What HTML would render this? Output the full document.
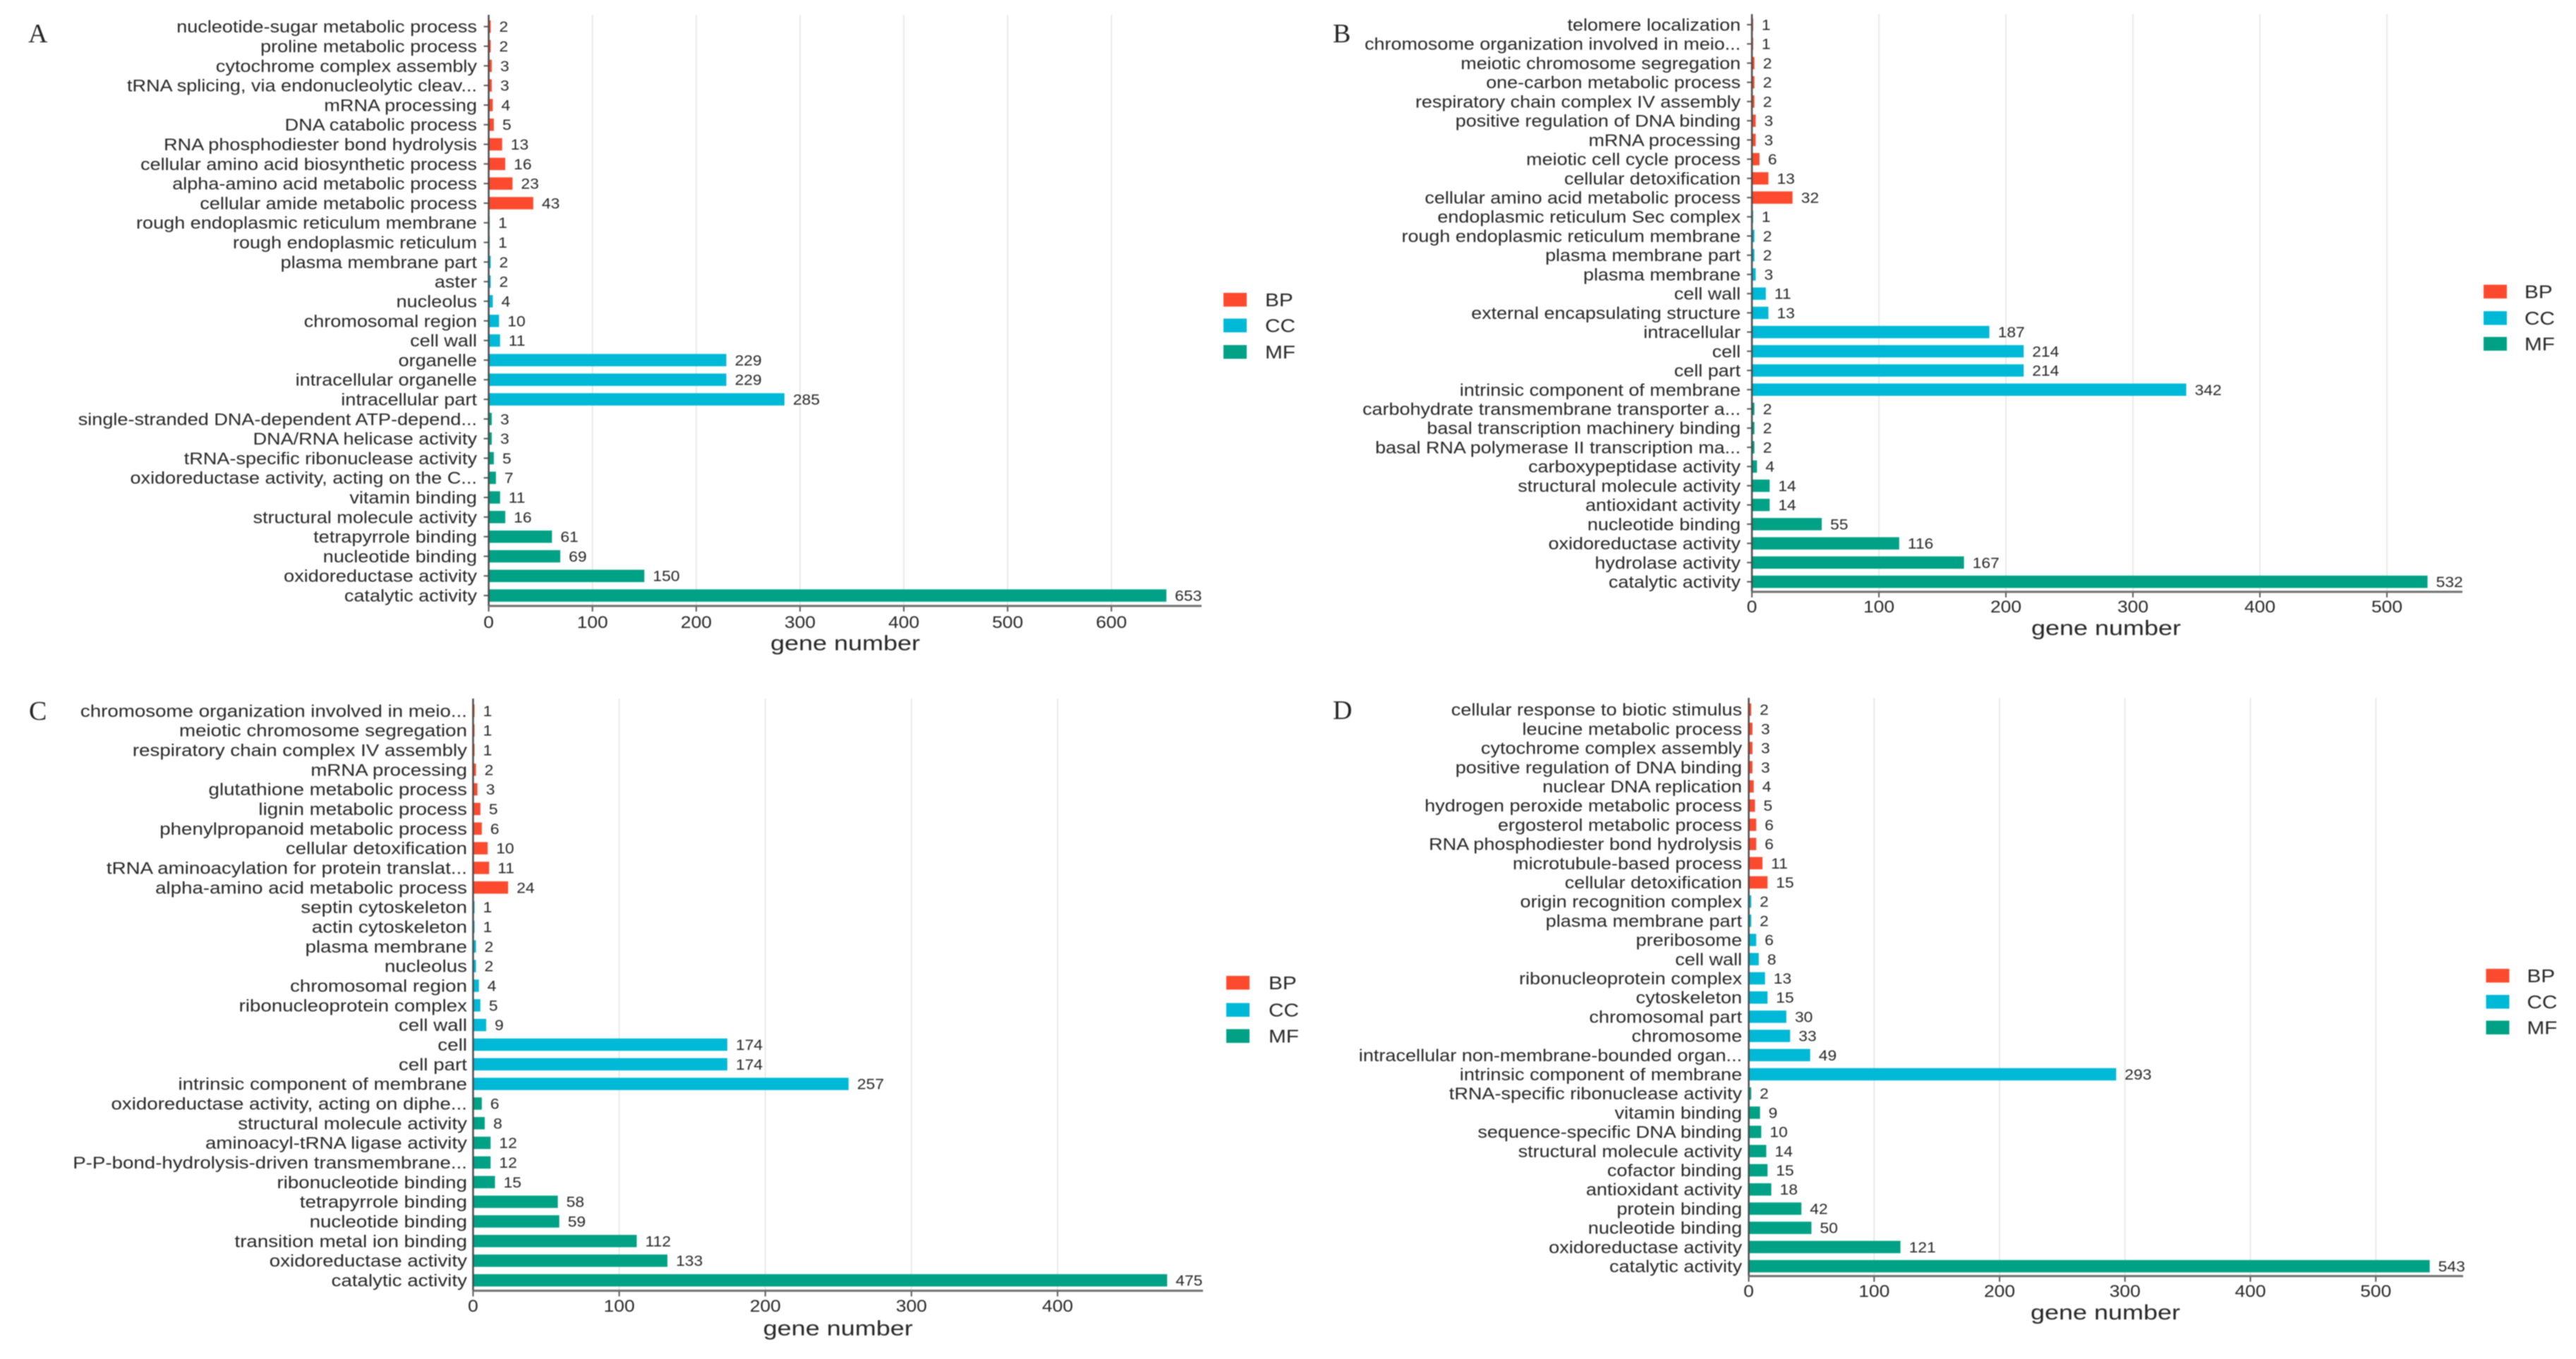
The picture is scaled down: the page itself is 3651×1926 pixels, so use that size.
<!DOCTYPE html>
<html lang="en">
<head>
<meta charset="utf-8">
<title>GO enrichment gene number charts</title>
<style>
html,body{margin:0;padding:0;background:#fff;}
body{width:3651px;height:1926px;overflow:hidden;}
#figure{display:block;filter:blur(0.7px);}
text{font-family:"Liberation Sans",Arial,sans-serif;fill:#262626;}
.panel-letter{font-family:"Liberation Serif",serif;fill:#222;}
</style>
</head>
<body>
<svg id="figure" xmlns="http://www.w3.org/2000/svg" width="3651" height="1926" viewBox="0 0 3651 1926">
<rect x="0" y="0" width="3651" height="1926" fill="#ffffff"/>
</svg>
<script>
const groupNames = ['BP', 'CC', 'MF'];
const groupSizes = [10, 10, 10];
const axisTitle = 'gene number';

const categoriesA = ['nucleotide-sugar metabolic process','proline metabolic process','cytochrome complex assembly','tRNA splicing, via endonucleolytic cleav...','mRNA processing','DNA catabolic process','RNA phosphodiester bond hydrolysis','cellular amino acid biosynthetic process','alpha-amino acid metabolic process','cellular amide metabolic process','rough endoplasmic reticulum membrane','rough endoplasmic reticulum','plasma membrane part','aster','nucleolus','chromosomal region','cell wall','organelle','intracellular organelle','intracellular part','single-stranded DNA-dependent ATP-depend...','DNA/RNA helicase activity','tRNA-specific ribonuclease activity','oxidoreductase activity, acting on the C...','vitamin binding','structural molecule activity','tetrapyrrole binding','nucleotide binding','oxidoreductase activity','catalytic activity'];
const valuesA = [2,2,3,3,4,5,13,16,23,43,1,1,2,2,4,10,11,229,229,285,3,3,5,7,11,16,61,69,150,653];
const tickLabelsA = ['0','100','200','300','400','500','600'];

const categoriesB = ['telomere localization','chromosome organization involved in meio...','meiotic chromosome segregation','one-carbon metabolic process','respiratory chain complex IV assembly','positive regulation of DNA binding','mRNA processing','meiotic cell cycle process','cellular detoxification','cellular amino acid metabolic process','endoplasmic reticulum Sec complex','rough endoplasmic reticulum membrane','plasma membrane part','plasma membrane','cell wall','external encapsulating structure','intracellular','cell','cell part','intrinsic component of membrane','carbohydrate transmembrane transporter a...','basal transcription machinery binding','basal RNA polymerase II transcription ma...','carboxypeptidase activity','structural molecule activity','antioxidant activity','nucleotide binding','oxidoreductase activity','hydrolase activity','catalytic activity'];
const valuesB = [1,1,2,2,2,3,3,6,13,32,1,2,2,3,11,13,187,214,214,342,2,2,2,4,14,14,55,116,167,532];
const tickLabelsB = ['0','100','200','300','400','500'];

const categoriesC = ['chromosome organization involved in meio...','meiotic chromosome segregation','respiratory chain complex IV assembly','mRNA processing','glutathione metabolic process','lignin metabolic process','phenylpropanoid metabolic process','cellular detoxification','tRNA aminoacylation for protein translat...','alpha-amino acid metabolic process','septin cytoskeleton','actin cytoskeleton','plasma membrane','nucleolus','chromosomal region','ribonucleoprotein complex','cell wall','cell','cell part','intrinsic component of membrane','oxidoreductase activity, acting on diphe...','structural molecule activity','aminoacyl-tRNA ligase activity','P-P-bond-hydrolysis-driven transmembrane...','ribonucleotide binding','tetrapyrrole binding','nucleotide binding','transition metal ion binding','oxidoreductase activity','catalytic activity'];
const valuesC = [1,1,1,2,3,5,6,10,11,24,1,1,2,2,4,5,9,174,174,257,6,8,12,12,15,58,59,112,133,475];
const tickLabelsC = ['0','100','200','300','400'];

const categoriesD = ['cellular response to biotic stimulus','leucine metabolic process','cytochrome complex assembly','positive regulation of DNA binding','nuclear DNA replication','hydrogen peroxide metabolic process','ergosterol metabolic process','RNA phosphodiester bond hydrolysis','microtubule-based process','cellular detoxification','origin recognition complex','plasma membrane part','preribosome','cell wall','ribonucleoprotein complex','cytoskeleton','chromosomal part','chromosome','intracellular non-membrane-bounded organ...','intrinsic component of membrane','tRNA-specific ribonuclease activity','vitamin binding','sequence-specific DNA binding','structural molecule activity','cofactor binding','antioxidant activity','protein binding','nucleotide binding','oxidoreductase activity','catalytic activity'];
const valuesD = [2,3,3,3,4,5,6,6,11,15,2,2,6,8,13,15,30,33,49,293,2,9,10,14,15,18,42,50,121,543];
const tickLabelsD = ['0','100','200','300','400','500'];

const groupColors = {BP:'#fb4a2e', CC:'#00b9d6', MF:'#00a185'};
const SVG_NS = 'http://www.w3.org/2000/svg';
const root = document.getElementById('figure');

function make(parent, tag, geometry, content) {
  const node = document.createElementNS(SVG_NS, tag);
  for (const key in geometry) node.setAttribute(key, geometry[key]);
  if (content !== undefined) node.textContent = content;
  parent.appendChild(node);
  return node;
}
function stretched(x, y, sx) { return 'translate(' + x + ',' + y + ') scale(' + sx + ',1)'; }

function groupOf(index) {
  let running = 0;
  for (let g = 0; g < groupNames.length; g++) {
    running += groupSizes[g];
    if (index < running) return groupNames[g];
  }
  return groupNames[groupNames.length - 1];
}

function drawPanel(p) {
  const g = make(root, 'g', {});
  
  

  const xScale = function (v) { return p.x0 + v * p.pxPerUnit; };
  const yScale = function (i) { return p.firstY + i * (p.lastY - p.firstY) / (p.categories.length - 1); };

  const letter = make(g, 'text', {x:p.letterX, y:p.letterY, 'font-size':38, class:'panel-letter'}, p.id);
  
  

  p.ticks.forEach(function (label) {
    const v = Number(label);
    const x = xScale(v);
    if (v !== 0) {
      const grid = make(g, 'line', {x1:x, x2:x, y1:p.axisTop, y2:p.axisY, stroke:'#e9e9e9', 'stroke-width':2});
      
      
    }
    const tick = make(g, 'line', {x1:x, x2:x, y1:p.axisY, y2:p.axisY + 8, stroke:'#555', 'stroke-width':2});
    
    
    const text = make(g, 'text', {transform:stretched(x, p.tickBase, 1.1), 'font-size':24, 'text-anchor':'middle'}, label);
    
    
  });

  p.categories.forEach(function (name, i) {
    const y = yScale(i);
    const value = p.values[i];
    const bar = make(g, 'rect', {x:p.x0, y:y - 8.75, width:xScale(value) - p.x0, height:17.5, fill:groupColors[groupOf(i)]});
    
    
    if (p.yTick > 0) {
      const tick = make(g, 'line', {x1:p.x0 - p.yTick, x2:p.x0, y1:y, y2:y, stroke:'#555', 'stroke-width':2});
      
      
    }
    const label = make(g, 'text', {transform:stretched(p.labelRight, y + 8.5, p.sx), 'font-size':24, 'text-anchor':'end'}, name);
    
    
    const printed = make(g, 'text', {transform:stretched(xScale(value) + 12, y + 7.5, 1.09), 'font-size':21}, String(value));
    
    
  });

  const yAxis = make(g, 'line', {x1:p.x0, x2:p.x0, y1:p.axisTop, y2:p.axisY, stroke:'#4a4a4a', 'stroke-width':2.5});
  
  
  const xAxis = make(g, 'line', {x1:p.x0, x2:p.axisEnd, y1:p.axisY, y2:p.axisY, stroke:'#6e6e6e', 'stroke-width':3});
  
  

  const title = make(g, 'text', {transform:stretched(p.titleX, p.titleBase, 1.2), 'font-size':30, 'text-anchor':'middle'}, axisTitle);
  
  

  groupNames.forEach(function (name, k) {
    const swatch = make(g, 'rect', {x:p.legendX, y:p.legendY[k], width:33, height:19.5, fill:groupColors[name]});
    
    
    const text = make(g, 'text', {transform:stretched(p.legendTextX, p.legendY[k] + 19, 1.145), 'font-size':26}, name);
    
    
  });
}

drawPanel({id:'A', categories:categoriesA, values:valuesA, ticks:tickLabelsA,
  x0:692.6, pxPerUnit:1.471, firstY:37.7, lastY:844, axisTop:21, axisY:858.7, axisEnd:1703,
  labelRight:676, sx:1.128, yTick:7, tickBase:890, titleX:1198, titleBase:921.7,
  letterX:40, letterY:60, legendX:1734, legendY:[415,451.5,489], legendTextX:1793});
drawPanel({id:'B', categories:categoriesB, values:valuesB, ticks:tickLabelsB,
  x0:2483, pxPerUnit:1.80, firstY:35, lastY:824.5, axisTop:20, axisY:838.7, axisEnd:3490,
  labelRight:2467, sx:1.123, yTick:7, tickBase:868, titleX:2985, titleBase:900,
  letterX:1889, letterY:60, legendX:3520, legendY:[403.5,441,477.5], legendTextX:3578});
drawPanel({id:'C', categories:categoriesC, values:valuesC, ticks:tickLabelsC,
  x0:670.5, pxPerUnit:2.071, firstY:1007.3, lastY:1814.5, axisTop:990, axisY:1829.3, axisEnd:1705,
  labelRight:662, sx:1.155, yTick:0, tickBase:1859, titleX:1187.7, titleBase:1892.5,
  letterX:41, letterY:1020, legendX:1738, legendY:[1383,1421.5,1458.5], legendTextX:1798});
drawPanel({id:'D', categories:categoriesD, values:valuesD, ticks:tickLabelsD,
  x0:2478.5, pxPerUnit:1.7775, firstY:1005.7, lastY:1794.5, axisTop:989, axisY:1808.5, axisEnd:3491,
  labelRight:2469, sx:1.128, yTick:0, tickBase:1838, titleX:2984, titleBase:1870,
  letterX:1889, letterY:1019, legendX:3523.5, legendY:[1373,1410,1446.5], legendTextX:3581.5});
</script>
</body>
</html>
